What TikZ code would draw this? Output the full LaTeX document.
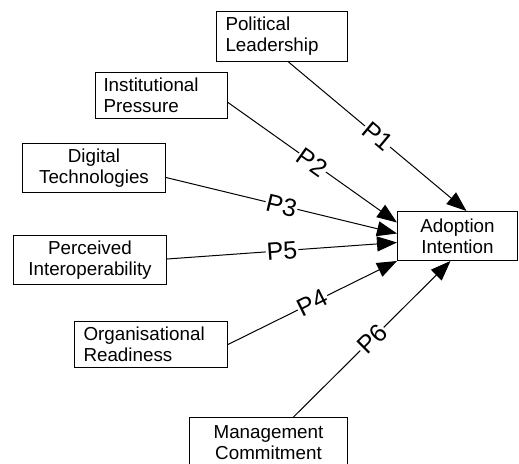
\documentclass[tikz,border=0pt]{standalone}
\usepackage{fontspec}
\setmainfont{Liberation Sans}
\usetikzlibrary{arrows.meta}
\begin{document}
\begin{tikzpicture}[x=1pt,y=-1pt,
  box/.style={draw, line width=1pt, anchor=north west, inner sep=0pt,
    font=\fontsize{18.8}{21}\selectfont},
  arr/.style={line width=1pt, -{Triangle[length=20pt,width=15pt]}},
  lab/.style={sloped, fill=white, inner sep=1pt, font=\fontsize{25}{25}\selectfont}]
\useasboundingbox (0,0) rectangle (519,463);
\clip (0,0) rectangle (519,463);
\fill[white] (0,0) rectangle (519,463);

\node[box, minimum width=131pt, minimum height=50pt, text width=113pt, align=left] (pl) at (216,11) {Political\\Leadership};
\node[box, minimum width=132pt, minimum height=46pt, text width=116pt, align=left] (ip) at (95,72) {Institutional\\Pressure};
\node[box, minimum width=143pt, minimum height=49pt, text width=135pt, align=center] (dt) at (22,143) {Digital\\Technologies};
\node[box, minimum width=153pt, minimum height=49pt, text width=145pt, align=center] (pi) at (13,235) {Perceived\\Interoperability};
\node[box, minimum width=153pt, minimum height=46pt, text width=135pt, align=left] (or) at (74,321) {Organisational\\Readiness};
\node[box, minimum width=120pt, minimum height=49pt, text width=112pt, align=center] (ai) at (397,211) {Adoption\\Intention};
\node[box, minimum width=158pt, minimum height=50pt, text width=150pt, align=center] (mc) at (189,417) {Management\\Commitment};

\draw[arr] ([xshift=6.5pt]pl.south) -- node[lab] {P1} ([xshift=9pt]ai.north);
\draw[arr] ([yshift=-7pt]ip.east) -- node[lab] {P2} ([yshift=13.5pt]ai.west);
\draw[arr] ([yshift=-9.5pt]dt.east) -- node[lab] {P3} ([yshift=2.5pt]ai.west);
\draw[arr] ([yshift=1pt]pi.east) -- node[lab] {P5} ([yshift=-6.5pt]ai.west);
\draw[arr] (or.east) -- node[lab] {P4} (ai.south west);
\draw[arr] ([xshift=25pt]mc.north) -- node[lab] {P6} ([xshift=-7pt]ai.south);
\end{tikzpicture}
\end{document}
